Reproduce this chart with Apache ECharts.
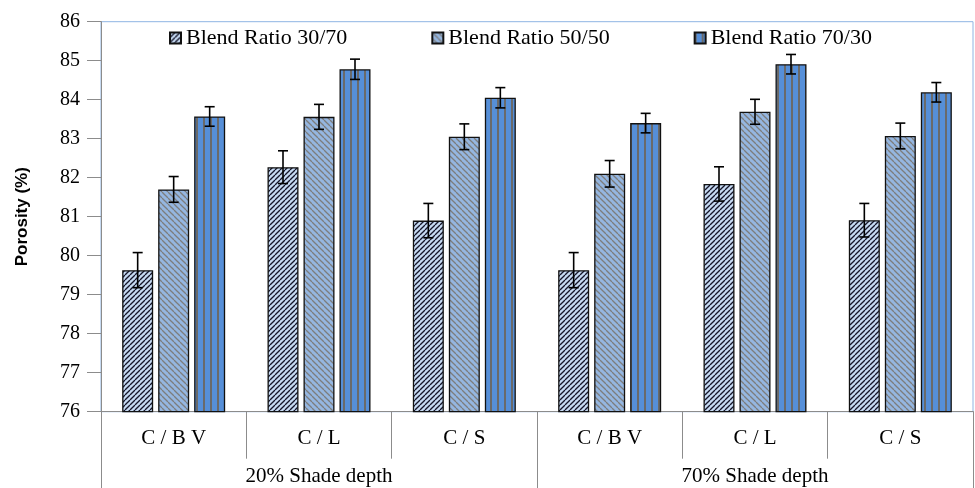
<!DOCTYPE html>
<html>
<head>
<meta charset="utf-8">
<script src="https://cdn.jsdelivr.net/npm/echarts@6/dist/echarts.min.js"></script>
<style>html,body{margin:0;padding:0;background:#fff}#c{width:975px;height:488px}</style>
</head>
<body>
<div id="c"></div>
<script>
const categories = ['C / B V', 'C / L', 'C / S', 'C / B V', 'C / L', 'C / S'];
const groups = ['20% Shade depth', '70% Shade depth'];
const seriesNames = ['Blend Ratio 30/70', 'Blend Ratio 50/50', 'Blend Ratio 70/30'];
const ratio3070 = [79.63, 82.27, 80.90, 79.63, 81.84, 80.91];
const ratio5050 = [81.70, 83.56, 83.05, 82.10, 83.69, 83.07];
const ratio7030 = [83.57, 84.78, 84.05, 83.40, 84.91, 84.19];
const err3070 = [0.45, 0.42, 0.44, 0.45, 0.44, 0.43];
const err5050 = [0.33, 0.32, 0.33, 0.34, 0.32, 0.33];
const err7030 = [0.25, 0.26, 0.26, 0.25, 0.25, 0.25];
const yTicks = {min: 76, max: 86, interval: 1};

function pattern(bg, w, h, draw) {
  const c = document.createElement('canvas');
  c.width = w; c.height = h;
  const ctx = c.getContext('2d');
  ctx.fillStyle = bg; ctx.fillRect(0, 0, w, h);
  draw(ctx, w, h);
  return {image: c, repeat: 'repeat'};
}
const pat1 = pattern('#c6daf2', 5, 5, (ctx, w, h) => {
  ctx.strokeStyle = '#15152a'; ctx.lineWidth = 1.3;
  for (const k of [-w, 0, w]) { ctx.beginPath(); ctx.moveTo(k, h); ctx.lineTo(k + w, 0); ctx.stroke(); }
});
const pat2 = pattern('#95b6e0', 6, 6, (ctx, w, h) => {
  ctx.strokeStyle = '#7d7d7d'; ctx.lineWidth = 1.3;
  for (const k of [-w, 0, w]) { ctx.beginPath(); ctx.moveTo(k, 0); ctx.lineTo(k + w, h); ctx.stroke(); }
});
const pat3 = pattern('#568fd8', 7, 4, (ctx, w, h) => {
  ctx.fillStyle = '#6a6a6a'; ctx.fillRect(0, 0, 2, h);
});
const pats = [pat1, pat2, pat3];
const values = [ratio3070, ratio5050, ratio7030];
const errs = [err3070, err5050, err7030];

const BAR_W = 31, GAP = 5;
const SERIF = "'Liberation Serif', 'Times New Roman', serif";
const chart = echarts.init(document.getElementById('c'));
const series = [];
values.forEach((vals, i) => {
  series.push({
    name: seriesNames[i], type: 'bar', xAxisIndex: 0, yAxisIndex: 0,
    barWidth: BAR_W, barGap: (GAP / BAR_W * 100) + '%',
    data: vals,
    itemStyle: {color: pats[i], borderColor: '#111', borderWidth: 1.3},
    emphasis: {disabled: true}
  });
});
values.forEach((vals, i) => {
  series.push({
    type: 'custom', xAxisIndex: 0, yAxisIndex: 0, z: 10, silent: true,
    data: vals.map((v, k) => [k, v, errs[i][k]]),
    renderItem: (params, api) => {
      const cat = api.value(0), v = api.value(1), e = api.value(2);
      const c = api.coord([cat, v]);
      const x = c[0] + (i - 1) * (BAR_W + GAP);
      const t = api.coord([cat, v + e])[1];
      const b = api.coord([cat, v - e])[1];
      const st = {stroke: '#000', lineWidth: 1.6};
      return {type: 'group', children: [
        {type: 'line', shape: {x1: x, y1: t, x2: x, y2: b}, style: st},
        {type: 'line', shape: {x1: x - 5, y1: t, x2: x + 5, y2: t}, style: st},
        {type: 'line', shape: {x1: x - 5, y1: b, x2: x + 5, y2: b}, style: st}
      ]};
    }
  });
});

chart.setOption({
  animation: false,
  backgroundColor: '#fff',
  textStyle: {fontFamily: SERIF},
  grid: {left: 101, right: 2, top: 21.7, bottom: 76.3, show: true, borderColor: '#8eb4e3', borderWidth: 1},
  legend: {
    data: seriesNames, left: 164, top: 22, itemWidth: 11, itemHeight: 11, itemGap: 84,
    icon: 'rect',
    textStyle: {fontFamily: SERIF, fontSize: 22, color: '#000'}
  },
  xAxis: [
    {type: 'category', data: categories, position: 'bottom',
     axisLine: {show: true, lineStyle: {color: '#8c8c8c', width: 1}},
     axisTick: {show: true, alignWithLabel: false, interval: 0, length: 47, lineStyle: {color: '#8c8c8c', width: 1}},
     axisLabel: {fontFamily: SERIF, fontSize: 21, color: '#000', margin: 16}},
    {type: 'category', data: groups, position: 'bottom', gridIndex: 0,
     axisLine: {show: true, lineStyle: {color: '#8c8c8c', width: 1}},
     axisTick: {show: true, alignWithLabel: false, interval: 0, length: 77, lineStyle: {color: '#8c8c8c', width: 1}},
     axisLabel: {fontFamily: SERIF, fontSize: 21, color: '#000', margin: 54}}
  ],
  yAxis: {
    type: 'value', min: yTicks.min, max: yTicks.max, interval: yTicks.interval,
    name: 'Porosity (%)', nameLocation: 'middle', nameGap: 70, nameRotate: 90,
    nameTextStyle: {fontFamily: "'Liberation Sans', Arial, sans-serif", fontWeight: 'bold', fontSize: 17, color: '#000'},
    axisLine: {show: true, lineStyle: {color: '#8c8c8c'}},
    axisTick: {show: true, length: 14, lineStyle: {color: '#8c8c8c'}},
    axisLabel: {fontFamily: SERIF, fontSize: 20, color: '#000', margin: 21},
    splitLine: {show: false}
  },
  series: series
});
</script>
</body>
</html>
